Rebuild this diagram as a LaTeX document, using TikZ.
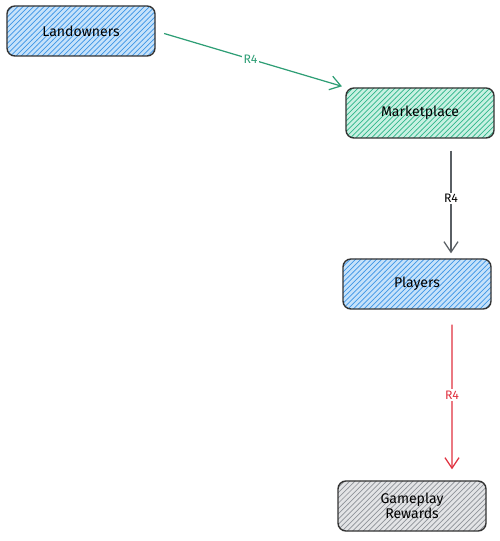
\documentclass[tikz,border=0pt]{standalone}
\usepackage{fontspec}
\setmainfont{Fira Sans}
\usepackage{tikz}
\usetikzlibrary{arrows.meta}
\usetikzlibrary{patterns}
\usetikzlibrary{positioning}

\definecolor{blueline}{HTML}{3D95E6}
\definecolor{bluefill}{HTML}{C6E2FA}
\definecolor{greenline}{HTML}{2FB58A}
\definecolor{greenfill}{HTML}{C8F1E2}
\definecolor{greyline}{HTML}{8E9399}
\definecolor{greyfill}{HTML}{E3E4E6}
\definecolor{flowgreen}{HTML}{2E9E75}
\definecolor{flowgrey}{HTML}{5A5F64}
\definecolor{flowred}{HTML}{E0313F}

\begin{document}
\begin{tikzpicture}[
		box/.style={draw=black!80, line width=0.8pt, rounded corners=4.5pt,
			minimum width=2.96cm, minimum height=1cm, align=center,
			font=\footnotesize\linespread{0.9}\selectfont, text=black},
		boxblue/.style={box, preaction={fill=bluefill}, pattern=north east lines, pattern color=blueline},
		boxgreen/.style={box, preaction={fill=greenfill}, pattern=north east lines, pattern color=greenline},
		boxgrey/.style={box, preaction={fill=greyfill}, pattern=north east lines, pattern color=greyline},
		flow/.style={-{Straight Barb[length=6pt, width=8pt]}, line width=0.7pt},
		tag/.style={fill=white, inner sep=1pt, font=\scriptsize}
	]
		\useasboundingbox (0,0) rectangle (10,10.82);
		
		\node[boxblue] (Landowners) at (1.62,10.2) {Landowners};
		\node[boxgreen] (Marketplace) at (8.4,8.56) {Marketplace};
		\node[boxblue] (Players) at (8.34,5.14) {Players};
		\node[boxgrey] (Rewards) at (8.24,0.7) {Gameplay\\Rewards};
		
		%% the R4 flows
		\draw[flow, flowgreen, shorten <=5pt, shorten >=2pt] (Landowners.east) -- node[tag, text=flowgreen] {R4} (Marketplace.north west);
		\draw[flow, flowgrey, shorten <=0.24cm, shorten >=0.1cm] ([xshift=0.62cm]Marketplace.south) -- node[tag, text=black] {R4} ([xshift=0.68cm]Players.north);
		\draw[flow, flowred, shorten <=0.3cm, shorten >=0.22cm] ([xshift=0.7cm]Players.south) -- node[tag, text=flowred, pos=0.5] {R4} ([xshift=0.8cm]Rewards.north);
\end{tikzpicture}
\end{document}
